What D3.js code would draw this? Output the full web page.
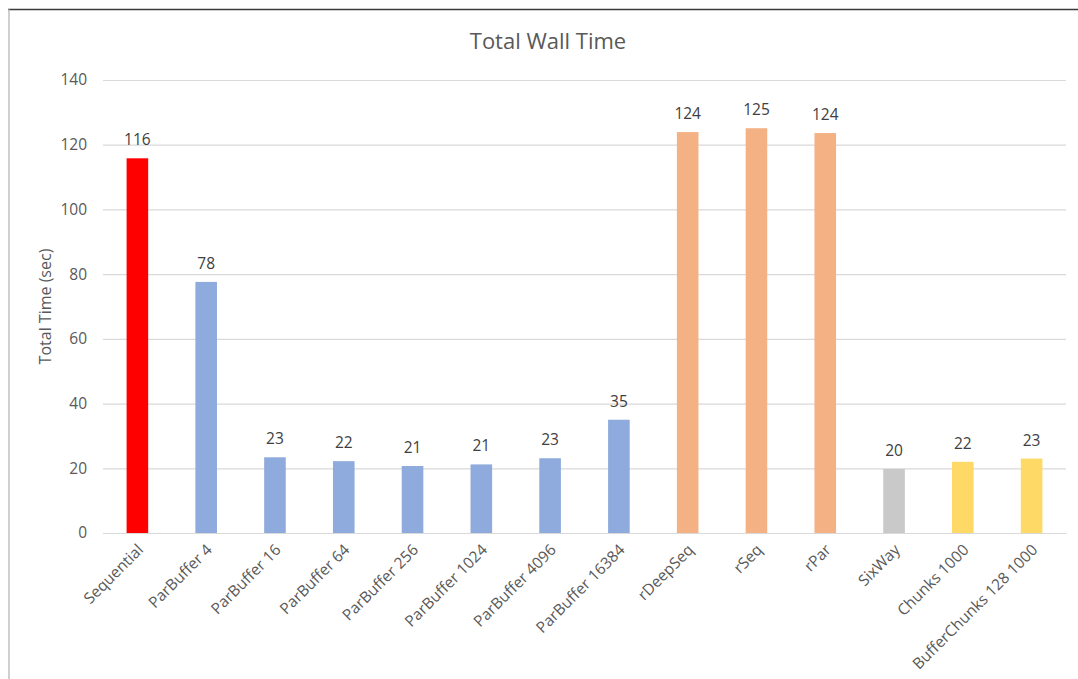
<!DOCTYPE html>
<html>
<head>
<meta charset="utf-8">
<script src="https://cdn.jsdelivr.net/npm/d3@7"></script>
<style>
  html, body { margin: 0; padding: 0; background: #fff; }
  svg { display: block; font-family: "Open Sans", sans-serif; }
</style>
</head>
<body>
<svg id="chart" width="1078" height="679"></svg>
<script>
// Benchmark results: total wall time per strategy
const categories = [
  "Sequential", "ParBuffer 4", "ParBuffer 16", "ParBuffer 64", "ParBuffer 256",
  "ParBuffer 1024", "ParBuffer 4096", "ParBuffer 16384", "rDeepSeq", "rSeq",
  "rPar", "SixWay", "Chunks 1000", "BufferChunks 128 1000"
];
const wallTime = [115.8, 77.6, 23.4, 22.2, 20.7, 21.2, 23.1, 35.0, 123.9, 125.1, 123.6, 19.8, 22.0, 23.0];
const strategyGroup = [
  "sequential", "parBuffer", "parBuffer", "parBuffer", "parBuffer",
  "parBuffer", "parBuffer", "parBuffer", "eval", "eval",
  "eval", "sixWay", "chunks", "chunks"
];
const yTicks = [0, 20, 40, 60, 80, 100, 120, 140];

const svg = d3.select("#chart");
const W = 1078, H = 679;
const m = { left: 103, right: 12, top: 80, bottom: 146 };

const groupColor = d3.scaleOrdinal()
  .domain(["sequential", "parBuffer", "eval", "sixWay", "chunks"])
  .range(["#FF0000", "#8FAADC", "#F4B183", "#C9C9C9", "#FFD966"]);

const x = d3.scaleBand()
  .domain(categories)
  .range([m.left, W - m.right])
  .paddingInner(0.686)
  .paddingOuter(0.343);

const y = d3.scaleLinear()
  .domain([0, 140])
  .range([H - m.bottom, m.top]);

// frame
svg.append("line").attr("x1", 8).attr("x2", W).attr("y1", 9.5).attr("y2", 9.5)
  .attr("stroke", "#3a3a3a").attr("stroke-width", 1.5);
svg.append("line").attr("x1", 9).attr("x2", 9).attr("y1", 9).attr("y2", H)
  .attr("stroke", "#b0b0b0").attr("stroke-width", 1.2);

// title
svg.append("text")
  .attr("x", 548).attr("y", 49)
  .attr("text-anchor", "middle")
  .attr("font-size", 22)
  .attr("fill", "#595959")
  .text("Total Wall Time");

// gridlines + y axis labels
const yAxis = d3.axisLeft(y)
  .tickValues(yTicks)
  .tickSize(-(W - m.right - m.left))
  .tickPadding(16);

const gy = svg.append("g")
  .attr("transform", `translate(${m.left},0)`)
  .call(yAxis);
gy.select(".domain").remove();
gy.selectAll(".tick line").attr("stroke", "#D9D9D9").attr("stroke-width", 1.2);
gy.selectAll(".tick text")
  .attr("fill", "#595959")
  .attr("font-size", 15.5)
  .attr("font-family", "Open Sans, sans-serif");

// y axis title
svg.append("text")
  .attr("transform", `translate(51,${(y(0) + y(140)) / 2}) rotate(-90)`)
  .attr("text-anchor", "middle")
  .attr("font-size", 16)
  .attr("fill", "#595959")
  .text("Total Time (sec)");

// bars
const rows = categories.map((c, i) => ({ name: c, value: wallTime[i], group: strategyGroup[i] }));

svg.append("g").selectAll("rect")
  .data(rows)
  .join("rect")
  .attr("x", d => x(d.name))
  .attr("width", x.bandwidth())
  .attr("y", d => y(d.value))
  .attr("height", d => y(0) - y(d.value))
  .attr("fill", d => groupColor(d.group));

// value labels
svg.append("g").selectAll("text")
  .data(rows)
  .join("text")
  .attr("x", d => x(d.name) + x.bandwidth() / 2)
  .attr("y", d => y(d.value) - 13)
  .attr("text-anchor", "middle")
  .attr("font-size", 15.5)
  .attr("fill", "#404040")
  .text(d => d3.format(".0f")(d.value));

// x axis
const gx = svg.append("g")
  .attr("transform", `translate(0,${y(0)})`)
  .call(d3.axisBottom(x).tickSize(0).tickPadding(0));
gx.select(".domain").attr("stroke", "#D9D9D9").attr("stroke-width", 1.2);
gx.selectAll(".tick text")
  .attr("fill", "#595959")
  .attr("font-size", 15.5)
  .attr("font-family", "Open Sans, sans-serif")
  .attr("text-anchor", "end")
  .attr("dy", "0.35em")
  .attr("transform", "translate(3,14) rotate(-45)");
</script>
</body>
</html>
